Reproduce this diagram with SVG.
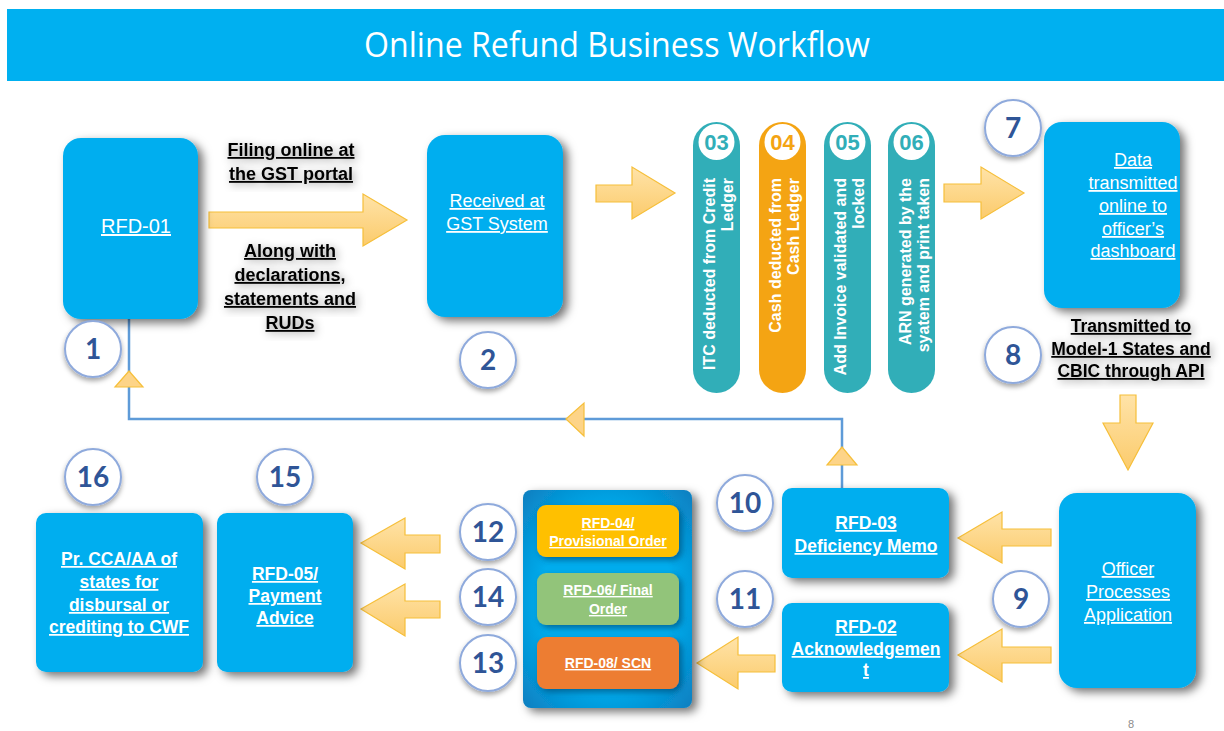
<svg xmlns="http://www.w3.org/2000/svg" width="1224" height="731" viewBox="0 0 1224 731">
<defs>
  <filter id="boxShadow" x="-30%" y="-30%" width="170%" height="170%">
    <feDropShadow dx="5" dy="4" stdDeviation="5" flood-color="#000" flood-opacity="0.55"/>
  </filter>
  <filter id="circShadow" x="-40%" y="-40%" width="180%" height="180%">
    <feDropShadow dx="0" dy="3" stdDeviation="2.5" flood-color="#000" flood-opacity="0.35"/>
  </filter>
  <filter id="textGlow" x="-20%" y="-40%" width="140%" height="180%">
    <feDropShadow dx="2" dy="2" stdDeviation="4" flood-color="#000" flood-opacity="0.4"/>
  </filter>
  <filter id="innerShadow" x="-20%" y="-20%" width="140%" height="140%">
    <feDropShadow dx="3" dy="3" stdDeviation="3" flood-color="#003a66" flood-opacity="0.6"/>
  </filter>
  <linearGradient id="arrowFill" x1="0" y1="0" x2="0" y2="1">
    <stop offset="0" stop-color="#FFE3A8"/>
    <stop offset="1" stop-color="#FBCB6C"/>
  </linearGradient>
  <radialGradient id="containerFill" cx="0.5" cy="0.5" r="0.7">
    <stop offset="0.55" stop-color="#00ADEE"/>
    <stop offset="1" stop-color="#0A7FC0"/>
  </radialGradient>
</defs>
<style>
  .box { fill: #00AEEF; filter: url(#boxShadow); }
  .wt { font-family: "Liberation Sans", Arial, sans-serif; fill: #FFFFFF; text-anchor: middle; text-decoration: underline; }
  .wn { font-size: 18px; }
  .wb { font-size: 17.5px; font-weight: bold; }
  .bl { font-family: "Liberation Sans", Arial, sans-serif; fill: #000000; font-weight: bold; text-anchor: middle; text-decoration: underline; filter: url(#textGlow); }
  .circ { fill: #FFFFFF; stroke: #8FAADC; stroke-width: 2; filter: url(#circShadow); }
  .num { font-family: Lato, "Open Sans", sans-serif; font-weight: bold; font-size: 28px; fill: #2F5597; text-anchor: middle; }
  .arrow { fill: url(#arrowFill); stroke: #F6BF3A; stroke-width: 1.2; stroke-linejoin: miter; }
  .tri { fill: #FDD488; stroke: #F6BF3A; stroke-width: 1.2; }
  .line { fill: none; stroke: #5E9BD8; stroke-width: 2.5; }
  .pill { stroke: none; }
  .pillnum { font-family: "Liberation Sans", Arial, sans-serif; font-weight: bold; font-size: 22px; text-anchor: middle; }
  .vt { font-family: "Liberation Sans", Arial, sans-serif; font-weight: bold; font-size: 16px; fill: #FFFFFF; text-anchor: end; }
  .it { font-family: "Liberation Sans", Arial, sans-serif; font-weight: bold; font-size: 14px; fill: #FFFFFF; text-anchor: middle; text-decoration: underline; }
</style>

<rect x="0" y="0" width="1224" height="731" fill="#FFFFFF"/>

<g id="title">
  <rect x="7" y="9" width="1217" height="72" fill="#00B0F0"/>
  <text x="617" y="57" font-family="'Open Sans', 'Liberation Sans', sans-serif" font-size="34" fill="#FFFFFF" text-anchor="middle" textLength="506" lengthAdjust="spacingAndGlyphs">Online Refund Business Workflow</text>
</g>

<g id="connectors">
  <polyline class="line" points="129,319 129,419 842,419 842,488"/>
  <polygon class="tri" points="129,371 115,387 143,387"/>
  <polygon class="tri" points="566,419 584,403 584,436"/>
  <polygon class="tri" points="842,447 827,465 857,465"/>
  <polygon class="arrow" points="209,212 363,212 363,194 407,220 363,246 363,228 209,228"/>
  <polygon class="arrow" points="596,185 632,185 632,167 675,193 632,219 632,202 596,202"/>
  <polygon class="arrow" points="944,184 981,184 981,167 1024,193 981,219 981,202 944,202"/>
  <polygon class="arrow" points="1120,395 1136,395 1136,423 1153,423 1128,470 1103,423 1120,423"/>
  <polygon class="arrow" points="1051,529 1002,529 1002,512 958,538 1002,563 1002,546 1051,546"/>
  <polygon class="arrow" points="1051,647 1002,647 1002,629 958,655 1002,682 1002,663 1051,663"/>
  <polygon class="arrow" points="775,655 738,655 738,637 697,663 738,689 738,672 775,672"/>
  <polygon class="arrow" points="440,535 405,535 405,518 361,543 405,569 405,553 440,553"/>
  <polygon class="arrow" points="440,601 405,601 405,584 361,609 405,636 405,618 440,618"/>
</g>

<g id="label-filing">
  <text class="bl" font-size="18" x="291" y="156">Filing online at</text>
  <text class="bl" font-size="18" x="291" y="180">the GST portal</text>
</g>
<g id="label-along">
  <text class="bl" font-size="18" x="290" y="257">Along with</text>
  <text class="bl" font-size="18" x="290" y="281">declarations,</text>
  <text class="bl" font-size="18" x="290" y="305">statements and</text>
  <text class="bl" font-size="18" x="290" y="329">RUDs</text>
</g>

<g id="node-rfd01">
  <rect class="box" x="63" y="138" width="135" height="181" rx="18"/>
  <text class="wt" font-size="20" x="136" y="233">RFD-01</text>
</g>
<g id="step-1">
  <circle class="circ" cx="93" cy="349" r="28"/>
  <text class="num" x="93" y="359">1</text>
</g>

<g id="node-received">
  <rect class="box" x="427" y="135" width="136" height="182" rx="18"/>
  <text class="wt wn" x="497" y="207">Received at</text>
  <text class="wt wn" x="497" y="230">GST System</text>
</g>
<g id="step-2">
  <circle class="circ" cx="488" cy="360" r="28"/>
  <text class="num" x="488" y="370">2</text>
</g>

<g id="pill-03">
  <rect class="pill" x="693" y="122" width="47" height="271" rx="23.5" fill="#31AEB8"/>
  <circle cx="716.5" cy="142" r="18" fill="#FFFFFF"/>
  <text class="pillnum" x="716.5" y="150" fill="#31AEB8">03</text>
  <text class="vt" transform="translate(715,178) rotate(-90)">ITC deducted from Credit</text>
  <text class="vt" transform="translate(733,178) rotate(-90)">Ledger</text>
</g>
<g id="pill-04">
  <rect class="pill" x="759" y="122" width="47" height="271" rx="23.5" fill="#F4A413"/>
  <circle cx="782.5" cy="142" r="18" fill="#FFFFFF"/>
  <text class="pillnum" x="782.5" y="150" fill="#F4A413">04</text>
  <text class="vt" transform="translate(781,178) rotate(-90)">Cash deducted from</text>
  <text class="vt" transform="translate(799,178) rotate(-90)">Cash Ledger</text>
</g>
<g id="pill-05">
  <rect class="pill" x="824" y="122" width="47" height="271" rx="23.5" fill="#31AEB8"/>
  <circle cx="847.5" cy="142" r="18" fill="#FFFFFF"/>
  <text class="pillnum" x="847.5" y="150" fill="#31AEB8">05</text>
  <text class="vt" transform="translate(846,178) rotate(-90)">Add Invoice validated and</text>
  <text class="vt" transform="translate(864,178) rotate(-90)">locked</text>
</g>
<g id="pill-06">
  <rect class="pill" x="888" y="122" width="47" height="271" rx="23.5" fill="#31AEB8"/>
  <circle cx="911.5" cy="142" r="18" fill="#FFFFFF"/>
  <text class="pillnum" x="911.5" y="150" fill="#31AEB8">06</text>
  <text class="vt" transform="translate(911,178) rotate(-90)">ARN generated by the</text>
  <text class="vt" transform="translate(929,178) rotate(-90)">syatem and print taken</text>
</g>

<g id="node-data">
  <rect class="box" x="1044" y="122" width="136" height="186" rx="18"/>
  <text class="wt wn" x="1133" y="166">Data</text>
  <text class="wt wn" x="1133" y="189">transmitted</text>
  <text class="wt wn" x="1133" y="212">online to</text>
  <text class="wt wn" x="1133" y="235">officer’s</text>
  <text class="wt wn" x="1133" y="257">dashboard</text>
</g>
<g id="step-7">
  <circle class="circ" cx="1013" cy="128" r="28"/>
  <text class="num" x="1013" y="138">7</text>
</g>
<g id="label-transmitted">
  <text class="bl" font-size="17.5" x="1131" y="332">Transmitted to</text>
  <text class="bl" font-size="17.5" x="1131" y="355">Model-1 States and</text>
  <text class="bl" font-size="17.5" x="1131" y="377">CBIC through API</text>
</g>
<g id="step-8">
  <circle class="circ" cx="1013" cy="355" r="28"/>
  <text class="num" x="1013" y="365">8</text>
</g>

<g id="node-officer">
  <rect class="box" x="1059" y="493" width="137" height="195" rx="18"/>
  <text class="wt wn" x="1128" y="575">Officer</text>
  <text class="wt wn" x="1128" y="598">Processes</text>
  <text class="wt wn" x="1128" y="621">Application</text>
</g>
<g id="step-9">
  <circle class="circ" cx="1021" cy="599" r="28"/>
  <text class="num" x="1021" y="609">9</text>
</g>

<g id="node-rfd03">
  <rect class="box" x="782" y="488" width="167" height="90" rx="10"/>
  <text class="wt wb" x="866" y="529">RFD-03</text>
  <text class="wt wb" x="866" y="552">Deficiency Memo</text>
</g>
<g id="step-10">
  <circle class="circ" cx="745" cy="503" r="28"/>
  <text class="num" x="745" y="513">10</text>
</g>

<g id="node-rfd02">
  <rect class="box" x="782" y="603" width="167" height="89" rx="10"/>
  <text class="wt wb" x="866" y="633">RFD-02</text>
  <text class="wt wb" x="866" y="655">Acknowledgemen</text>
  <text class="wt wb" x="866" y="676">t</text>
</g>
<g id="step-11">
  <circle class="circ" cx="745" cy="599" r="28"/>
  <text class="num" x="745" y="609">11</text>
</g>

<g id="node-orders">
  <rect x="523" y="490" width="169" height="218" rx="8" fill="url(#containerFill)" filter="url(#boxShadow)"/>
  <rect x="537" y="505" width="142" height="52" rx="9" fill="#FFC000" filter="url(#innerShadow)"/>
  <text class="it" x="608" y="528">RFD-04/</text>
  <text class="it" x="608" y="546">Provisional Order</text>
  <rect x="537" y="573" width="142" height="52" rx="9" fill="#92C47A" filter="url(#innerShadow)"/>
  <text class="it" x="608" y="595">RFD-06/ Final</text>
  <text class="it" x="608" y="614">Order</text>
  <rect x="537" y="637" width="142" height="52" rx="9" fill="#ED7D31" filter="url(#innerShadow)"/>
  <text class="it" x="608" y="668">RFD-08/ SCN</text>
</g>
<g id="step-12">
  <circle class="circ" cx="488" cy="532" r="28"/>
  <text class="num" x="488" y="542">12</text>
</g>
<g id="step-14">
  <circle class="circ" cx="488" cy="597" r="28"/>
  <text class="num" x="488" y="607">14</text>
</g>
<g id="step-13">
  <circle class="circ" cx="488" cy="663" r="28"/>
  <text class="num" x="488" y="673">13</text>
</g>

<g id="node-rfd05">
  <rect class="box" x="217" y="513" width="136" height="159" rx="10"/>
  <text class="wt wb" x="285" y="580">RFD-05/</text>
  <text class="wt wb" x="285" y="602">Payment</text>
  <text class="wt wb" x="285" y="624">Advice</text>
</g>
<g id="step-15">
  <circle class="circ" cx="285" cy="477" r="28"/>
  <text class="num" x="285" y="487">15</text>
</g>

<g id="node-cca">
  <rect class="box" x="36" y="513" width="167" height="159" rx="10"/>
  <text class="wt wb" x="119" y="565">Pr. CCA/AA of</text>
  <text class="wt wb" x="119" y="588">states for</text>
  <text class="wt wb" x="119" y="611">disbursal or</text>
  <text class="wt wb" x="119" y="633">crediting to CWF</text>
</g>
<g id="step-16">
  <circle class="circ" cx="93" cy="477" r="28"/>
  <text class="num" x="93" y="487">16</text>
</g>

<text x="1131" y="728" font-family="'Liberation Sans', Arial, sans-serif" font-size="11" fill="#8C8C8C" text-anchor="middle">8</text>
</svg>
